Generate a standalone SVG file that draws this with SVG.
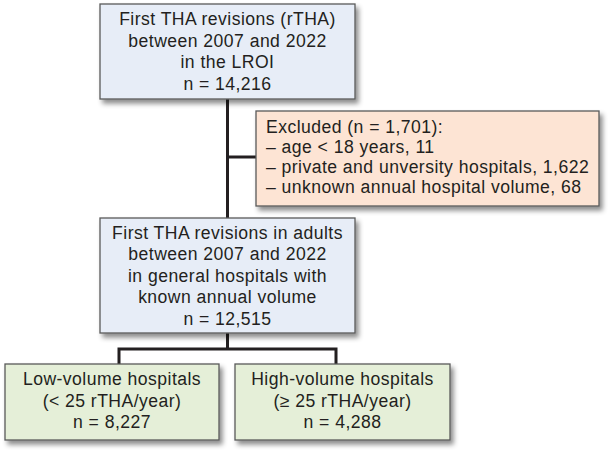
<svg xmlns="http://www.w3.org/2000/svg" width="615" height="457" viewBox="0 0 615 457">
<defs>
<filter id="sh" x="-10%" y="-10%" width="130%" height="140%">
<feDropShadow dx="3" dy="4" stdDeviation="2.5" flood-color="#000" flood-opacity="0.45"/>
</filter>
<style>
.box{stroke:#5a5a5a;stroke-width:1.3;filter:url(#sh)}
.blue{fill:#e7edf7}
.peach{fill:#fde4d4}
.green{fill:#e5efd8}
text{font-family:"Liberation Sans",Arial,sans-serif;font-size:17.6px;letter-spacing:0.45px;fill:#231f20}
.c{text-anchor:middle}
.conn{stroke:#231f20;stroke-width:3;fill:none}
</style>
</defs>
<rect width="615" height="457" fill="#fff"/>
<g id="connectors">
<line class="conn" x1="227.5" y1="99" x2="227.5" y2="218"/>
<line class="conn" x1="227.5" y1="157" x2="256" y2="157"/>
<line class="conn" x1="227.5" y1="333" x2="227.5" y2="349"/>
<polyline class="conn" points="119,365 119,349 336,349 336,365"/>
</g>
<g id="n1">
<rect class="box blue" x="100" y="4" width="255" height="95"/>
<text class="c" x="227.5" y="25">First THA revisions (rTHA)</text>
<text class="c" x="227.5" y="46.5">between 2007 and 2022</text>
<text class="c" x="227.5" y="68">in the LROI</text>
<text class="c" x="227.5" y="90">n = 14,216</text>
</g>
<g id="excluded">
<rect class="box peach" x="256" y="111" width="343" height="95"/>
<text x="266" y="133">Excluded (n = 1,701):</text>
<text x="266" y="153">– age &lt; 18 years, 11</text>
<text x="266" y="173">– private and unversity hospitals, 1,622</text>
<text x="266" y="193">– unknown annual hospital volume, 68</text>
</g>
<g id="n2">
<rect class="box blue" x="100" y="218" width="255" height="115"/>
<text class="c" x="227.5" y="238.5">First THA revisions in adults</text>
<text class="c" x="227.5" y="260">between 2007 and 2022</text>
<text class="c" x="227.5" y="281.5">in general hospitals with</text>
<text class="c" x="227.5" y="303">known annual volume</text>
<text class="c" x="227.5" y="324.5">n = 12,515</text>
</g>
<g id="low">
<rect class="box green" x="5" y="364" width="214" height="76"/>
<text class="c" x="112" y="385">Low-volume hospitals</text>
<text class="c" x="112" y="406.5">(&lt; 25 rTHA/year)</text>
<text class="c" x="112" y="428">n = 8,227</text>
</g>
<g id="high">
<rect class="box green" x="235" y="364" width="215" height="76"/>
<text class="c" x="342.5" y="385">High-volume hospitals</text>
<text class="c" x="342.5" y="406.5">(≥ 25 rTHA/year)</text>
<text class="c" x="342.5" y="428">n = 4,288</text>
</g>
</svg>
